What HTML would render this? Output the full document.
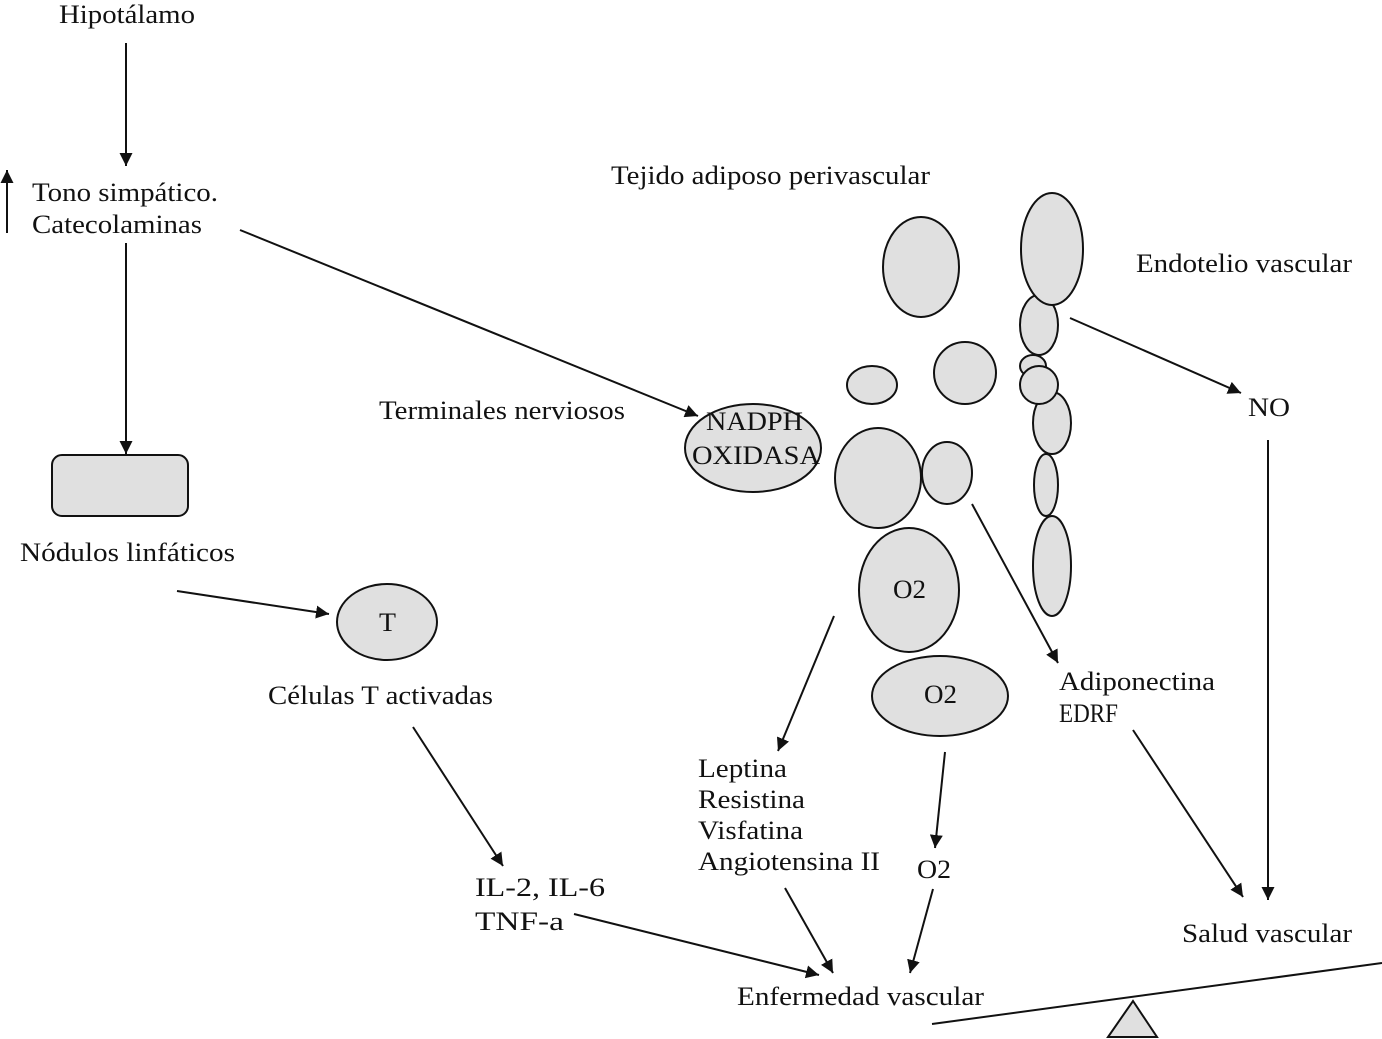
<!DOCTYPE html>
<html><head><meta charset="utf-8"><style>
html,body{margin:0;padding:0;background:#fff;}
svg{display:block;}
text{font-family:"Liberation Serif",serif;font-size:26px;fill:#111;}
</style></head><body>
<svg width="1382" height="1039" viewBox="0 0 1382 1039" xmlns="http://www.w3.org/2000/svg">
<defs>
<marker id="a" viewBox="0 0 10 10" refX="10" refY="5" markerWidth="13" markerHeight="13" markerUnits="userSpaceOnUse" orient="auto">
<path d="M0,0 L10,5 L0,10 z" fill="#111"/></marker>
</defs>
<g fill="#e0e0e0" stroke="#111" stroke-width="2">
<rect x="52" y="455" width="136" height="61" rx="10"/>
<ellipse cx="387" cy="622" rx="50" ry="38"/>
<ellipse cx="753" cy="448" rx="68" ry="44"/>
<ellipse cx="921" cy="267" rx="38" ry="50"/>
<ellipse cx="872" cy="385" rx="25" ry="19"/>
<ellipse cx="965" cy="373" rx="31" ry="31"/>
<ellipse cx="878" cy="478" rx="43" ry="50"/>
<ellipse cx="947" cy="473" rx="25" ry="31"/>
<ellipse cx="909" cy="590" rx="50" ry="62"/>
<ellipse cx="940" cy="696" rx="68" ry="40"/>
<ellipse cx="1052" cy="566" rx="19" ry="50"/>
<ellipse cx="1046" cy="485" rx="12" ry="31"/>
<ellipse cx="1052" cy="423" rx="19" ry="31"/>
<ellipse cx="1039" cy="325" rx="19" ry="30"/>
<ellipse cx="1033" cy="366" rx="13" ry="11"/>
<ellipse cx="1039" cy="385" rx="19" ry="19"/>
<ellipse cx="1052" cy="249" rx="31" ry="56"/>
<polygon points="1108,1037 1157,1037 1133,1001"/>
</g>
<g stroke="#111" stroke-width="2" fill="none" marker-end="url(#a)">
<line x1="126" y1="43" x2="126" y2="166"/>
<line x1="7" y1="233" x2="7" y2="170"/>
<line x1="240" y1="230" x2="698" y2="416"/>
<line x1="126" y1="243" x2="126" y2="454"/>
<line x1="177" y1="591" x2="329" y2="614"/>
<line x1="413" y1="727" x2="503" y2="866"/>
<line x1="574" y1="914" x2="819" y2="975"/>
<line x1="834" y1="616" x2="778" y2="751"/>
<line x1="785" y1="888" x2="833" y2="973"/>
<line x1="945" y1="752" x2="935" y2="848"/>
<line x1="933" y1="889" x2="910" y2="973"/>
<line x1="972" y1="504" x2="1058" y2="663"/>
<line x1="1070" y1="318" x2="1241" y2="393"/>
<line x1="1268" y1="440" x2="1268" y2="900"/>
<line x1="1133" y1="730" x2="1243" y2="897"/>
</g>
<line x1="932" y1="1024" x2="1382" y2="963" stroke="#111" stroke-width="2"/>
<g lengthAdjust="spacingAndGlyphs">
<text x="59" y="23" textLength="136" lengthAdjust="spacingAndGlyphs">Hipotálamo</text>
<text x="32" y="201" textLength="186" lengthAdjust="spacingAndGlyphs">Tono simpático.</text>
<text x="32" y="233" textLength="170" lengthAdjust="spacingAndGlyphs">Catecolaminas</text>
<text x="611" y="184" textLength="319" lengthAdjust="spacingAndGlyphs">Tejido adiposo perivascular</text>
<text x="1136" y="272" textLength="216" lengthAdjust="spacingAndGlyphs">Endotelio vascular</text>
<text x="379" y="419" textLength="246" lengthAdjust="spacingAndGlyphs">Terminales nerviosos</text>
<text x="706" y="430" textLength="97" lengthAdjust="spacingAndGlyphs">NADPH</text>
<text x="692" y="464" textLength="128" lengthAdjust="spacingAndGlyphs">OXIDASA</text>
<text x="1248" y="416" textLength="42" lengthAdjust="spacingAndGlyphs">NO</text>
<text x="20" y="561" textLength="215" lengthAdjust="spacingAndGlyphs">Nódulos linfáticos</text>
<text x="379" y="631" textLength="17" lengthAdjust="spacingAndGlyphs">T</text>
<text x="893" y="598" textLength="33" lengthAdjust="spacingAndGlyphs">O2</text>
<text x="924" y="703" textLength="33" lengthAdjust="spacingAndGlyphs">O2</text>
<text x="268" y="704" textLength="225" lengthAdjust="spacingAndGlyphs">Células T activadas</text>
<text x="1059" y="690" textLength="156" lengthAdjust="spacingAndGlyphs">Adiponectina</text>
<text x="1059" y="722" textLength="59" lengthAdjust="spacingAndGlyphs">EDRF</text>
<text x="698" y="777" textLength="89" lengthAdjust="spacingAndGlyphs">Leptina</text>
<text x="698" y="808" textLength="107" lengthAdjust="spacingAndGlyphs">Resistina</text>
<text x="698" y="839" textLength="105" lengthAdjust="spacingAndGlyphs">Visfatina</text>
<text x="698" y="870" textLength="182" lengthAdjust="spacingAndGlyphs">Angiotensina II</text>
<text x="917" y="878" textLength="34" lengthAdjust="spacingAndGlyphs">O2</text>
<text x="475" y="896" textLength="130" lengthAdjust="spacingAndGlyphs">IL-2, IL-6</text>
<text x="475" y="930" textLength="89" lengthAdjust="spacingAndGlyphs">TNF-a</text>
<text x="1182" y="942" textLength="170" lengthAdjust="spacingAndGlyphs">Salud vascular</text>
<text x="737" y="1005" textLength="247" lengthAdjust="spacingAndGlyphs">Enfermedad vascular</text>
</g>
</svg>
</body></html>
